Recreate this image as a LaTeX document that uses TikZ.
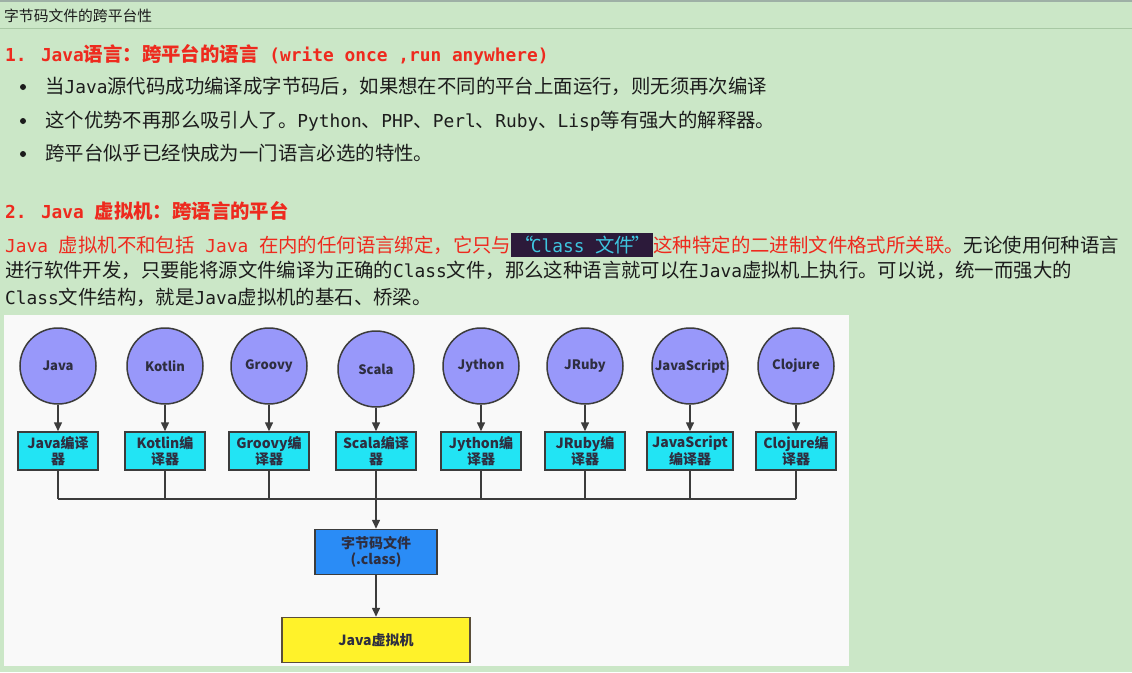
\documentclass[tikz,border=0pt]{standalone}
\usepackage{fontspec}
\setmainfont{Noto Sans CJK SC}
\newfontfamily\monofnt{DejaVu Sans Mono}[Scale=0.92]
\usetikzlibrary{arrows.meta}

\definecolor{pagebg}{HTML}{CBE7C7}
\definecolor{barline}{HTML}{A8C8A4}
\definecolor{topline}{HTML}{9EB0A6}
\definecolor{panel}{HTML}{F9F9F9}
\definecolor{bodytxt}{HTML}{1C1C1C}
\definecolor{redtxt}{HTML}{EE2A1E}
\definecolor{hlbg}{HTML}{2C1A3A}
\definecolor{hltxt}{HTML}{3EC6E0}
\definecolor{edge}{HTML}{3C3C3C}
\definecolor{dgtxt}{HTML}{2E2E40}
\definecolor{langfill}{HTML}{9898FA}
\definecolor{compfill}{HTML}{22E4F4}
\definecolor{bcfill}{HTML}{2A8CF6}
\definecolor{jvmfill}{HTML}{FFF22A}
\definecolor{jvmedge}{HTML}{5A4E3A}

\newcommand\jv[1]{{\monofnt #1}}
\newcommand\dgfont{\fontsize{14}{16.5}\selectfont\bfseries}

\begin{document}
\begin{tikzpicture}[x=1pt,y=-1pt,
	>={Triangle[length=9pt,width=8pt]},
	txt/.style={anchor=base west,inner sep=0pt,font=\fontsize{19.4}{22}\selectfont,text=bodytxt},
	head/.style={txt,font=\fontsize{19.4}{22}\selectfont\bfseries,text=redtxt},
	dot/.style={circle,fill=bodytxt,inner sep=0pt,minimum size=6pt},
	lang/.style={circle,draw=edge,line width=1.5pt,fill=langfill,minimum size=76pt,inner sep=0pt,font=\fontsize{13}{15}\selectfont\bfseries,text=dgtxt},
	comp/.style={rectangle,draw=edge,line width=1.5pt,fill=compfill,minimum width=80pt,minimum height=38pt,inner sep=2pt,align=center,font=\dgfont,text=dgtxt},
	link/.style={draw=edge,line width=1.5pt}]

	\useasboundingbox (0,0) rectangle (1132,672);
	\fill[pagebg] (0,0) rectangle (1132,672);
	\draw[topline,line width=1.5pt] (0,0.75) -- (1132,0.75);
	\draw[barline,line width=1.5pt] (0,28.5) -- (1132,28.5);

	\node[anchor=base west,inner sep=0pt,font=\fontsize{14.8}{17}\selectfont,text=bodytxt] (title) at (4,21) {字节码文件的跨平台性};

	\node[head] (h1) at (5,61) {\jv{1. Java}语言：跨平台的语言\jv{ (write once ,run anywhere)}};
	\node[dot] (d1) at (23,87) {};
	\node[txt] (b1) at (45,93) {当\jv{Java}源代码成功编译成字节码后，如果想在不同的平台上面运行，则无须再次编译};
	\node[dot] (d2) at (23,121) {};
	\node[txt] (b2) at (45,127) {这个优势不再那么吸引人了。\jv{Python}、\jv{PHP}、\jv{Perl}、\jv{Ruby}、\jv{Lisp}等有强大的解释器。};
	\node[dot] (d3) at (23,154) {};
	\node[txt] (b3) at (45,160) {跨平台似乎已经快成为一门语言必选的特性。};

	\node[head] (h2) at (5,218) {\jv{2. Java }虚拟机：跨语言的平台};
	\node[txt] (p1) at (5,252) {{\color{redtxt}\jv{Java }虚拟机不和包括\jv{ Java }在内的任何语言绑定，它只与}\setlength{\fboxsep}{3pt}\colorbox{hlbg}{\color{hltxt}“\kern-3pt\jv{Class }文件\kern-3pt”}{\color{redtxt}这种特定的二进制文件格式所关联。}无论使用何种语言};
	\node[txt] (p2) at (5,277) {进行软件开发，只要能将源文件编译为正确的\jv{Class}文件，那么这种语言就可以在\jv{Java}虚拟机上执行。可以说，统一而强大的};
	\node[txt] (p3) at (5,304) {\jv{Class}文件结构，就是\jv{Java}虚拟机的基石、桥梁。};

	\fill[panel] (4,315) rectangle (849,666);

	\node[lang] (java) at (58,366) {Java};
	\node[lang] (kotlin) at (165,366) {Kotlin};
	\node[lang] (groovy) at (269,366) {Groovy};
	\node[lang] (scala) at (376,369) {Scala};
	\node[lang] (jython) at (481,366) {Jython};
	\node[lang] (jruby) at (585,366) {JRuby};
	\node[lang] (javascript) at (690,366) {JavaScript};
	\node[lang] (clojure) at (796,366) {Clojure};

	\node[comp] (javac) at (58,451) {Java编译\\器};
	\node[comp] (kotlinc) at (165,451) {Kotlin编\\译器};
	\node[comp] (groovyc) at (269,451) {Groovy编\\译器};
	\node[comp] (scalac) at (376,451) {Scala编译\\器};
	\node[comp] (jythonc) at (481,451) {Jython编\\译器};
	\node[comp] (jrubyc) at (585,451) {JRuby编\\译器};
	\node[comp,minimum width=86pt] (javascriptc) at (690,451) {JavaScript\\编译器};
	\node[comp] (clojurec) at (796,451) {Clojure编\\译器};

	\draw[link,->] (java) -- (javac);
	\draw[link,->] (kotlin) -- (kotlinc);
	\draw[link,->] (groovy) -- (groovyc);
	\draw[link,->] (scala) -- (scalac);
	\draw[link,->] (jython) -- (jythonc);
	\draw[link,->] (jruby) -- (jrubyc);
	\draw[link,->] (javascript) -- (javascriptc);
	\draw[link,->] (clojure) -- (clojurec);

	\coordinate (bus) at (376,499);
	\draw[link] (javac) -- (javac |- bus);
	\draw[link] (kotlinc) -- (kotlinc |- bus);
	\draw[link] (groovyc) -- (groovyc |- bus);
	\draw[link] (scalac) -- (bus);
	\draw[link] (jythonc) -- (jythonc |- bus);
	\draw[link] (jrubyc) -- (jrubyc |- bus);
	\draw[link] (javascriptc) -- (javascriptc |- bus);
	\draw[link] (clojurec) -- (clojurec |- bus);
	\draw[link] (javac |- bus) -- (clojurec |- bus);

	\node[comp,fill=bcfill,minimum width=122pt,minimum height=45pt] (bc) at (376,552) {字节码文件\\(.class)};
	\node[comp,fill=jvmfill,draw=jvmedge,minimum width=188pt,minimum height=45pt] (jvm) at (376,640) {Java虚拟机};

	\draw[link,->] (bus) -- (bc);
	\draw[link,->] (bc) -- (jvm);

	%\draw[step=50,gray,ultra thin] (0,0) grid (1132,672);
\end{tikzpicture}
\end{document}
